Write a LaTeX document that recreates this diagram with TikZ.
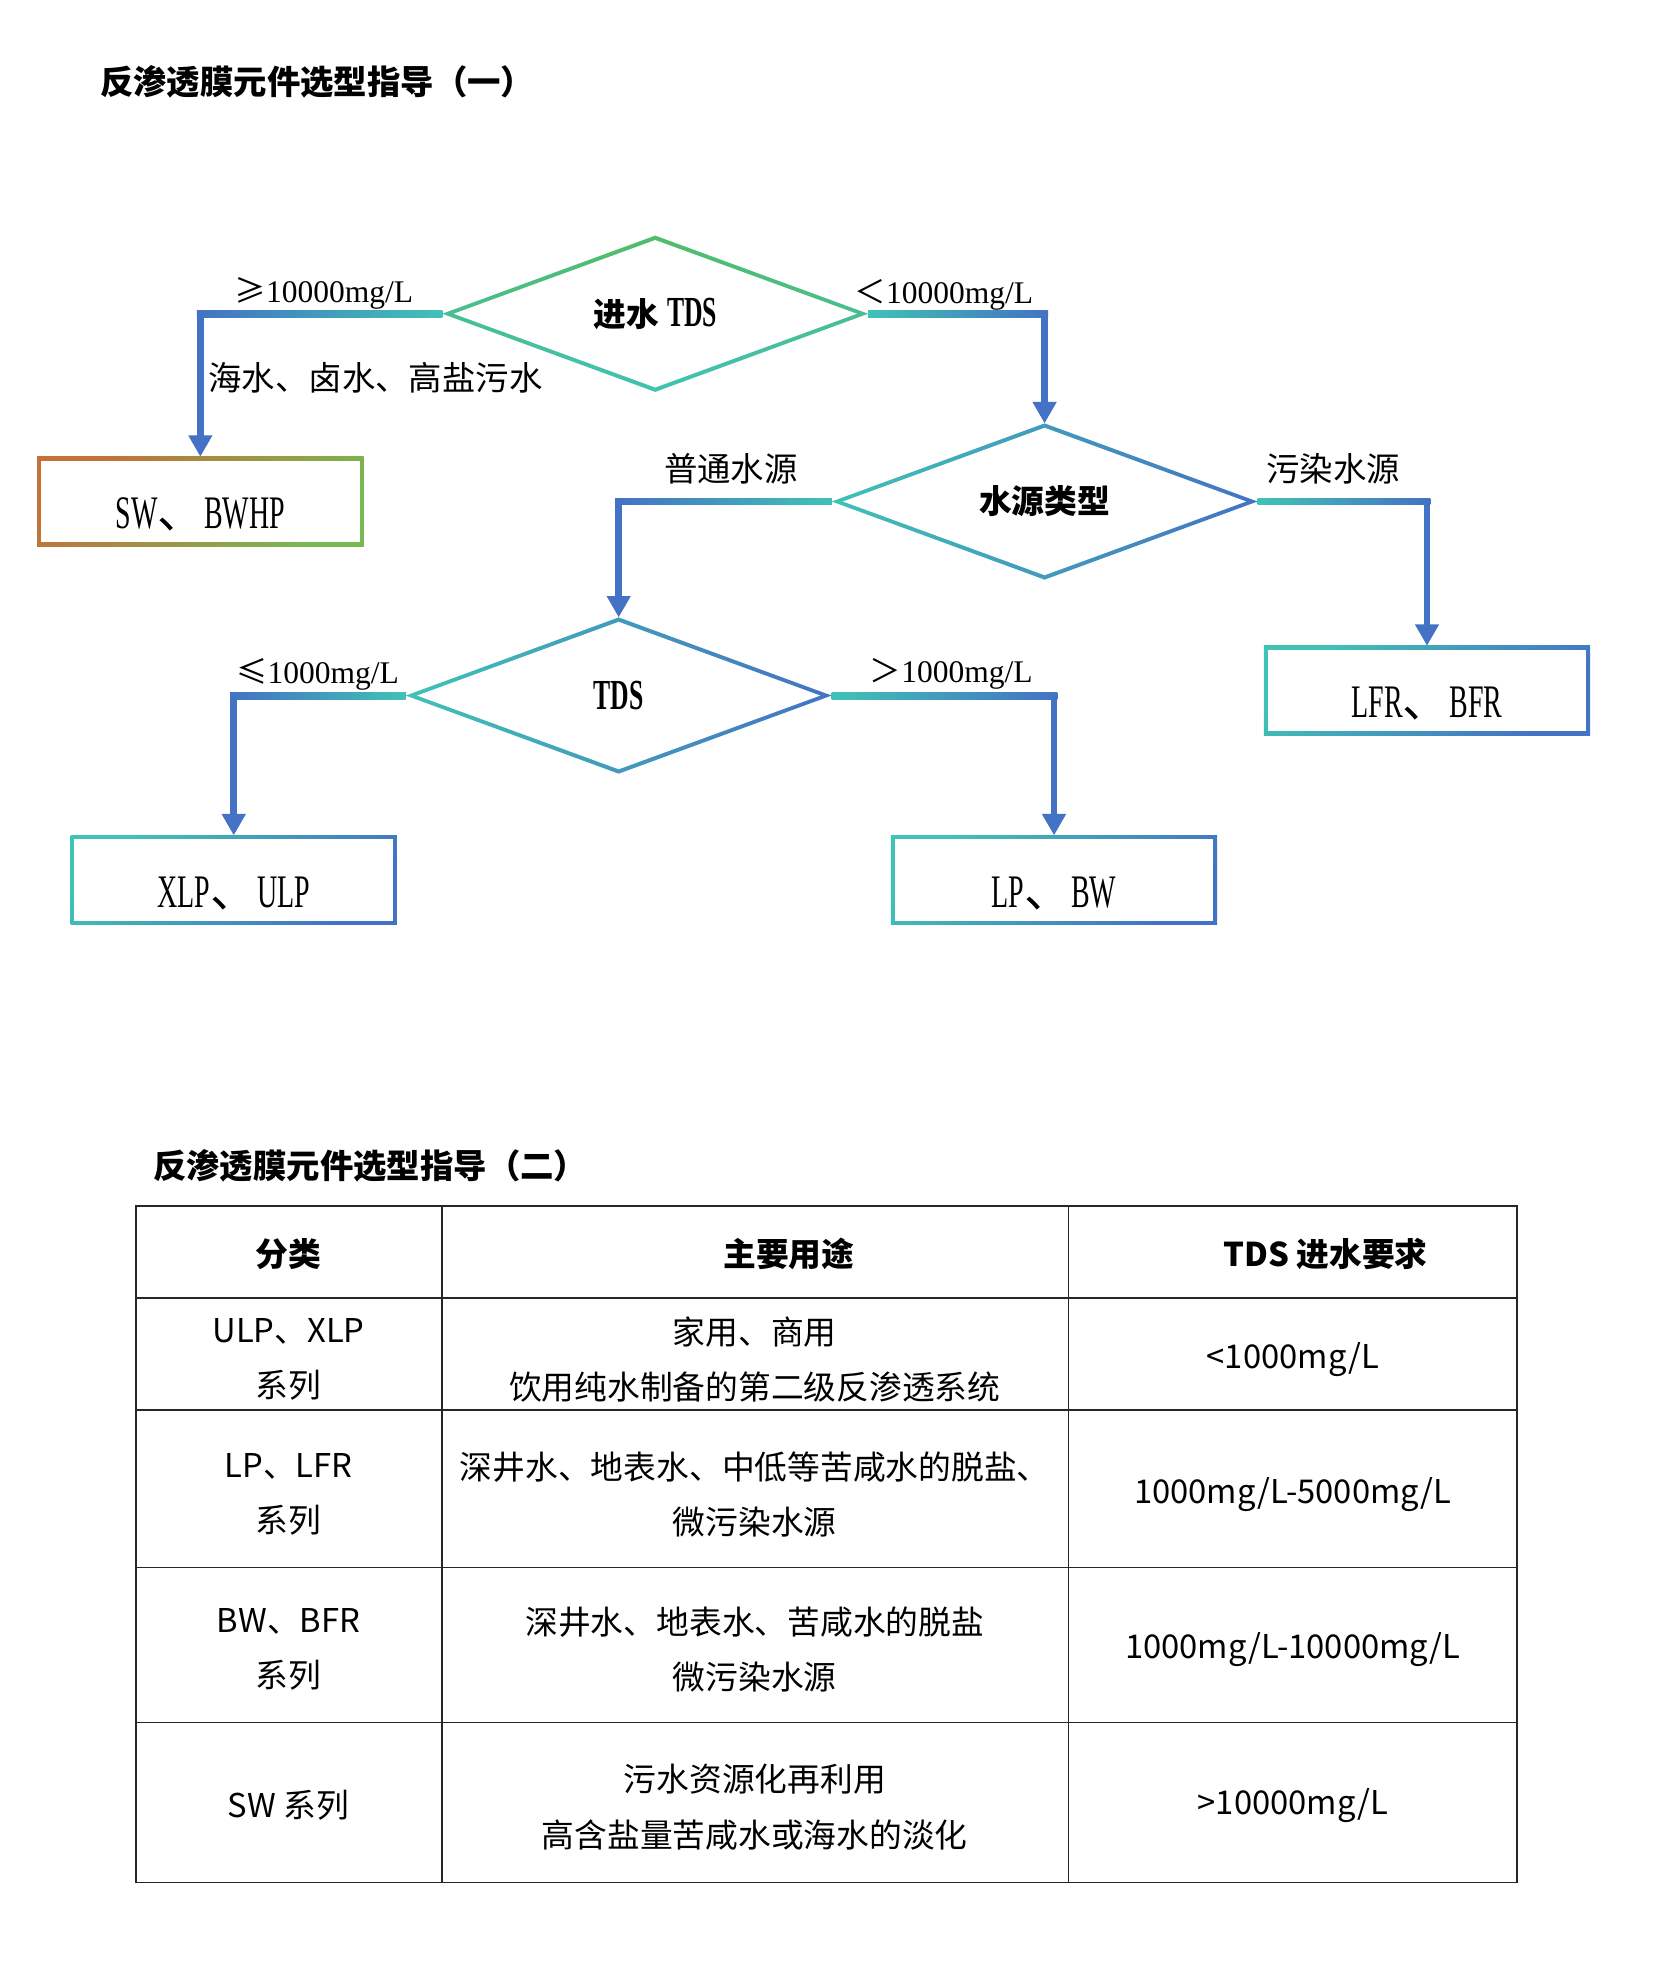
\documentclass[tikz,border=0pt]{standalone}
\usepackage{fontspec}
\usepackage{tikz}
\usetikzlibrary{shapes.geometric,arrows.meta,calc}
\setmainfont{Liberation Serif}
\newfontfamily\cjk{Noto Sans CJK SC}
\newfontfamily\narrow{Liberation Serif}[FakeStretch=0.6]
\definecolor{flowblue}{HTML}{4472C4}
\definecolor{flowteal}{HTML}{40C2B6}
\definecolor{flowgreen}{HTML}{52BC68}
\definecolor{flowbrown}{HTML}{C47038}
\definecolor{flowolive}{HTML}{78B850}
\newcommand\cj[1]{{\cjk #1}}

\begin{document}
\begin{tikzpicture}[x=1pt, y=-1pt,
  decision/.style={diamond, aspect=2.7, minimum width=338pt, minimum height=124pt, inner sep=0pt, outer sep=0pt},
  decisionin/.style={diamond, aspect=2.7, fill=white, minimum width=320pt, minimum height=117pt, inner sep=0pt, outer sep=0pt, font=\fontsize{26}{30}\selectfont},
  result/.style={rectangle, minimum width=259pt, minimum height=71pt, inner sep=0pt, outer sep=0pt},
  resultin/.style={rectangle, fill=white, minimum width=253pt, minimum height=65pt, inner sep=0pt, text height=43pt, text depth=0pt, font=\narrow\fontsize{37}{40}\selectfont},
  conn/.style={line width=5.5pt, flowblue, -{Triangle[length=17pt,width=18pt]}},
  lbl/.style={font=\fontsize{25}{30}\selectfont},
  lblcj/.style={font=\cjk\fontsize{26.5}{30}\selectfont},
  grid/.style={line width=1.3pt, black!85},
  cell/.style={font=\cjk\fontsize{26}{44}\selectfont, align=center}]
  \useasboundingbox[fill=white] (0,0) rectangle (1312.7,1569);

  % Titles
  \node[anchor=west, font=\cjk\bfseries\fontsize{26.5}{30}\selectfont] (title1) at (76,65) {反渗透膜元件选型指导（一）};
  \node[anchor=west, font=\cjk\bfseries\fontsize{26.5}{30}\selectfont] (title2) at (118,925) {反渗透膜元件选型指导（二）};

  % Decisions
  \node[decision, top color=flowgreen, bottom color=flowteal] (d1) at (520,249) {};
  \node[decisionin] (d1in) at (d1) {\cj{\bfseries 进水} {\narrow\bfseries\fontsize{34}{36}\selectfont TDS}};
  \node[decision, left color=flowteal, right color=flowblue] (d2) at (829,398) {};
  \node[decisionin] (d2in) at (d2) {\cj{\bfseries 水源类型}};
  \node[decision, left color=flowteal, right color=flowblue] (d3) at (491,552) {};
  \node[decisionin] (d3in) at (d3) {\narrow\bfseries\fontsize{34}{36}\selectfont TDS};

  % Results
  \node[result, left color=flowbrown, right color=flowolive, shading angle=45] (sw) at (159,398) {};
  \node[resultin] (swin) at (sw) {SW\cj{、}BWHP};
  \node[result, left color=flowteal, right color=flowblue, shading angle=45] (lfr) at (1132.5,548) {};
  \node[resultin] (lfrin) at (lfr) {LFR\cj{、}BFR};
  \node[result, left color=flowteal, right color=flowblue, shading angle=45] (xlp) at (185.5,698.5) {};
  \node[resultin] (xlpin) at (xlp) {XLP\cj{、}ULP};
  \node[result, left color=flowteal, right color=flowblue, shading angle=45] (lp) at (836.5,698.5) {};
  \node[resultin] (lpin) at (lp) {LP\cj{、}BW};

  % Connectors
  \draw[conn] (d1.west) -| (sw.north);
  \draw[conn] (d1.east) -| (d2.north);
  \draw[conn] (d2.west) -| (d3.north);
  \draw[conn] (d2.east) -| (lfr.north);
  \draw[conn] (d3.west) -| (xlp.north);
  \draw[conn] (d3.east) -| (lp.north);

  % Colour fade on the horizontal runs
  \shade[left color=flowblue, right color=flowteal] ($(d1.west -| sw.north)+(-2.75,-2.75)$) rectangle ($(d1.west)+(0,2.75)$);
  \shade[left color=flowteal, right color=flowblue] ($(d1.east)+(0,-2.75)$) rectangle ($(d1.east -| d2.north)+(2.75,2.75)$);
  \shade[left color=flowblue, right color=flowteal] ($(d2.west -| d3.north)+(-2.75,-2.75)$) rectangle ($(d2.west)+(0,2.75)$);
  \shade[left color=flowteal, right color=flowblue] ($(d2.east)+(0,-2.75)$) rectangle ($(d2.east -| lfr.north)+(2.75,2.75)$);
  \shade[left color=flowblue, right color=flowteal] ($(d3.west -| xlp.north)+(-2.75,-2.75)$) rectangle ($(d3.west)+(0,2.75)$);
  \shade[left color=flowteal, right color=flowblue] ($(d3.east)+(0,-2.75)$) rectangle ($(d3.east -| lp.north)+(2.75,2.75)$);

  % Labels
  \node[lbl] (l1) at (257,233) {\cj{≥}10000mg/L};
  \node[lblcj] (l2) at (298,300) {海水、卤水、高盐污水};
  \node[lbl] (l3) at (749,234) {\cj{＜}10000mg/L};
  \node[lblcj] (l4) at (580,372) {普通水源};
  \node[lblcj] (l5) at (1058,372) {污染水源};
  \node[lbl] (l6) at (252,535) {\cj{≤}1000mg/L};
  \node[lbl] (l7) at (755,535) {\cj{＞}1000mg/L};

  % Table
  \draw[grid] (108,957) rectangle (1204,1494);
  \foreach \y in {1030,1119,1244,1367}
    \draw[grid] (108,\y) -- (1204,\y);
  \draw[grid] (351,957) -- (351,1494);
  \draw[grid] (848,957) -- (848,1494);

  \node[cell, font=\cjk\bfseries\fontsize{26}{44}\selectfont] (h1) at (229,995) {分类};
  \node[cell, font=\cjk\bfseries\fontsize{26}{44}\selectfont] (h2) at (626,995) {主要用途};
  \node[cell, font=\cjk\bfseries\fontsize{26}{44}\selectfont] (h3) at (1052,995) {TDS 进水要求};

  \node[cell] (c11) at (229,1079) {ULP、XLP\\系列};
  \node[cell] (c12) at (599,1079) {家用、商用\\饮用纯水制备的第二级反渗透系统};
  \node[cell] (c13) at (1026,1079) {<1000mg/L};

  \node[cell] (c21) at (229,1186) {LP、LFR\\系列};
  \node[cell] (c22) at (599,1186) {深井水、地表水、中低等苦咸水的脱盐、\\微污染水源};
  \node[cell] (c23) at (1026,1186) {1000mg/L-5000mg/L};

  \node[cell] (c31) at (229,1309) {BW、BFR\\系列};
  \node[cell] (c32) at (599,1309) {深井水、地表水、苦咸水的脱盐\\微污染水源};
  \node[cell] (c33) at (1026,1309) {1000mg/L-10000mg/L};

  \node[cell] (c41) at (229,1433) {SW 系列};
  \node[cell] (c42) at (599,1434) {污水资源化再利用\\高含盐量苦咸水或海水的淡化};
  \node[cell] (c43) at (1026,1433) {>10000mg/L};
\end{tikzpicture}
\end{document}
